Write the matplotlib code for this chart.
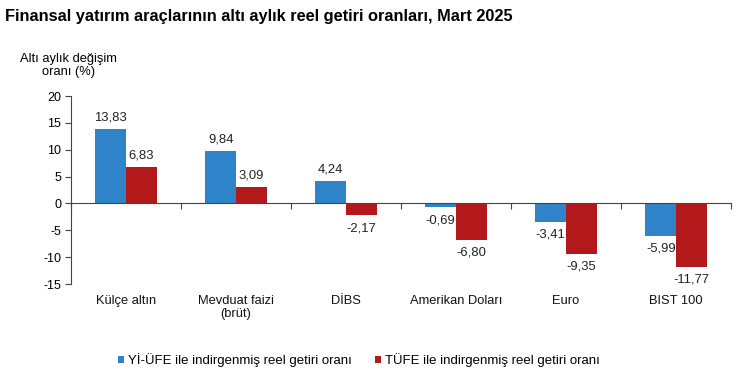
import matplotlib
matplotlib.use("Agg")
import matplotlib.pyplot as plt
import numpy as np
from matplotlib.transforms import blended_transform_factory

plt.rcParams['font.family'] = ['Liberation Sans', 'DejaVu Sans']

categories = ["Külçe altın", "Mevduat faizi\n(brüt)", "DİBS", "Amerikan Doları", "Euro", "BIST 100"]
yiufe = [13.83, 9.84, 4.24, -0.69, -3.41, -5.99]
tufe = [6.83, 3.09, -2.17, -6.80, -9.35, -11.77]
series_names = ["Yİ-ÜFE ile indirgenmiş reel getiri oranı", "TÜFE ile indirgenmiş reel getiri oranı"]
yticks = [-15, -10, -5, 0, 5, 10, 15, 20]

blue = "#2f83c9"
red = "#b3191b"

fig = plt.figure(figsize=(7.4, 3.73), dpi=100)
ax = fig.add_axes([0.096, 0.2386, 0.892, 0.504])

x = np.arange(len(categories))
w = 0.28
b1 = ax.bar(x - w/2, yiufe, width=w, color=blue, label=series_names[0])
b2 = ax.bar(x + w/2, tufe, width=w, color=red, label=series_names[1])

def fmt(v):
    return f"{v:.2f}".replace(".", ",")

for bars, vals in ((b1, yiufe), (b2, tufe)):
    for bar, v in zip(bars, vals):
        cx = bar.get_x() + bar.get_width()/2
        if v >= 0:
            ax.annotate(fmt(v), (cx, v), xytext=(0, 4), textcoords="offset points",
                        ha="center", va="bottom", fontsize=9.4, color="#222222")
        else:
            ax.annotate(fmt(v), (cx, v), xytext=(0, -5), textcoords="offset points",
                        ha="center", va="top", fontsize=9.4, color="#222222")

ax.set_xlim(-0.5, len(categories) - 0.5)
ax.set_ylim(-15, 20)
ax.set_yticks(yticks)
ax.set_yticklabels([str(t) for t in yticks], fontsize=9)
ax.tick_params(axis='y', direction='out', length=4, width=0.8, color="#444444", pad=3)

ax.spines['top'].set_visible(False)
ax.spines['right'].set_visible(False)
ax.spines['left'].set_color("#444444")
ax.spines['bottom'].set_position(('data', 0))
ax.spines['bottom'].set_color("#444444")
ax.set_xticks(np.arange(len(categories) + 1) - 0.5)
ax.set_xticklabels([])
ax.tick_params(axis='x', direction='out', length=4, width=0.8, color="#444444")

trans = blended_transform_factory(ax.transData, ax.transAxes)
for i, c in enumerate(categories):
    ax.text(i, -0.06, c, transform=trans, ha="center", va="top", fontsize=9.3,
            linespacing=1.1, color="#111111")

fig.text(0.092, 0.825, "Altı aylık değişim\noranı (%)", ha="center", va="center",
         fontsize=9.3, linespacing=1.15)
fig.text(0.007, 0.975, "Finansal yatırım araçlarının altı aylık reel getiri oranları, Mart 2025",
         ha="left", va="top", fontsize=11.8, fontweight="bold")

leg = fig.legend(handles=[b1, b2], labels=series_names, loc="center", bbox_to_anchor=(0.485, 0.035),
                 ncol=2, frameon=False, fontsize=9.5, handlelength=0.45, handleheight=0.45,
                 handletextpad=0.3, columnspacing=1.8)

fig.savefig("out.png", dpi=100)
